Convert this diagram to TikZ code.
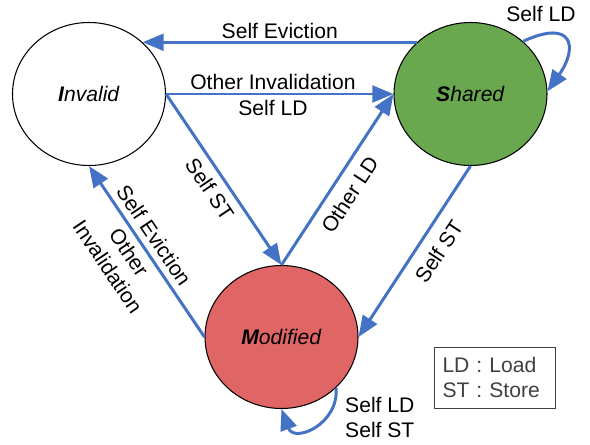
\documentclass[tikz,border=0pt]{standalone}
\usepackage{fontspec}
\setmainfont{Liberation Sans}
\usetikzlibrary{arrows.meta, shapes.geometric}
\definecolor{sharedgreen}{RGB}{106,168,79}
\definecolor{modifiedred}{RGB}{224,102,102}
\definecolor{transblue}{RGB}{68,114,196}

\tikzset{trans/.style={-{Triangle[length=12pt,width=9.5pt]}, color=transblue, line width=1.7pt}}

\begin{document}
\begin{tikzpicture}[scale=1, every node/.style={font=\fontsize{12}{14.5}\selectfont, text=black}]
		\useasboundingbox (0,0) rectangle (11.8,8.88);
		\begin{scope}[every node/.style={draw, ellipse, minimum width=3.06cm, minimum height=2.86cm, inner sep=1, line width=0.6pt, font=\fontsize{12}{14.5}\selectfont}]
		\node[draw, ellipse] (nI) at (1.78,7.0) {\textit{\textbf{I}nvalid}};
		\node[draw, ellipse, fill=sharedgreen] (nS) at (9.41,7.0) {\textit{\textbf{S}hared}};
		\node[draw, ellipse, fill=modifiedred] (nM) at (5.63,2.14) {\textit{\textbf{M}odified}};
		\end{scope}
		
		\draw[trans] (nS.136) -- node[above=-2pt] {Self Eviction} (nI.44);
		\draw[trans] (nI.east) -- node[pos=0.47, above=-1.5pt] {Other Invalidation} node[pos=0.47, below=-0.5pt] {Self LD} (nS.west);
		\draw[trans] (nI.east) -- node[pos=0.5, sloped, below=1pt] {Self ST} (nM.north);
		\draw[trans] (nM.north) -- node[pos=0.47, sloped, below=2pt] {Other LD} (nS.west);
		\draw[trans] (nS.south) -- node[pos=0.435, sloped, below=3pt] {Self ST} (nM.east);
		\draw[trans] (nM.west) -- node[pos=0.545, sloped, above] {Self Eviction} node[pos=0.545, sloped, below, align=center] {Other\\Invalidation} (nI.south);
		
		% self loops
		\draw[trans] (nS.45) to[out=25, in=55, looseness=2.5] (nS.2);
		\node (lS) at (10.82,8.61) {Self LD};
		\draw[trans] (nM.-43) to[out=-85, in=-70, looseness=1.6] (nM.south);
		\node[align=left, anchor=west] (lM) at (6.78,0.53) {Self LD\\Self ST};
		
		\node[draw, color=black!75, align=left, text width=2.1cm, inner xsep=4.5pt, minimum height=1.22cm] (key) at (9.9,1.33) {LD : Load\\ST : Store};
		\end{tikzpicture}
\end{document}
